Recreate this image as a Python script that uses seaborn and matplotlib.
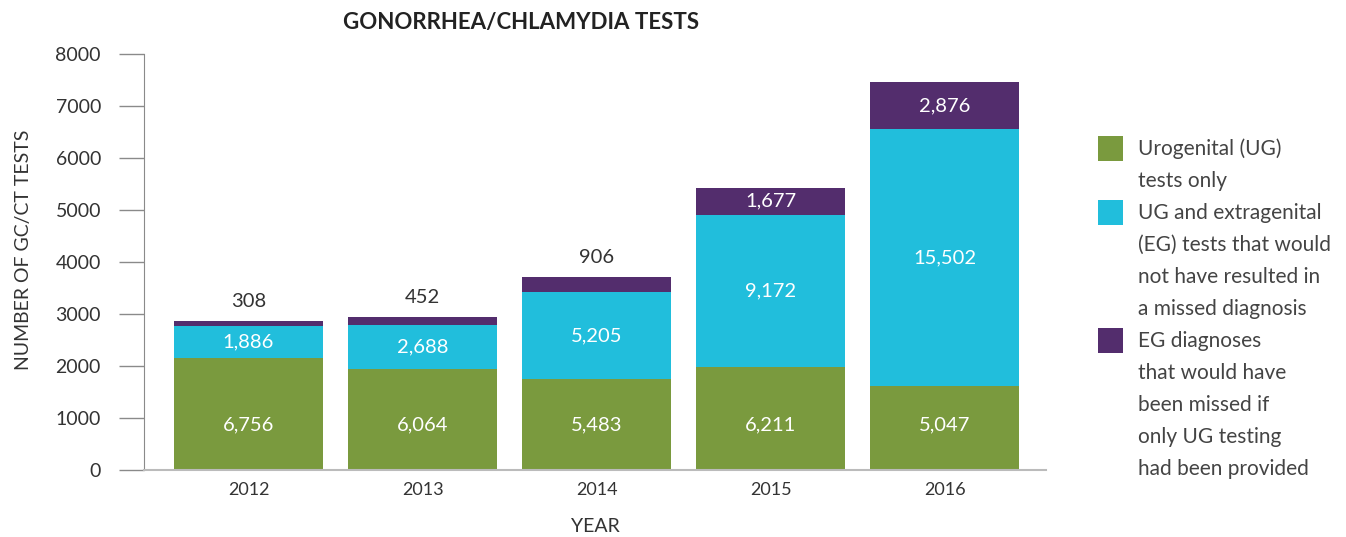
import pandas as pd
import matplotlib
matplotlib.use("Agg")
import matplotlib.pyplot as plt
import seaborn as sns
from matplotlib.patches import Rectangle

# bar segment heights as drawn on the axis
years = ["2012", "2013", "2014", "2015", "2016"]
ug_only = [2152, 1936, 1744, 1974, 1616]
ug_eg = [608, 843, 1668, 2933, 4940]
eg_missed = [96, 154, 288, 518, 901]

# numbers printed on the segments
ug_only_labels = ["6,756", "6,064", "5,483", "6,211", "5,047"]
ug_eg_labels = ["1,886", "2,688", "5,205", "9,172", "15,502"]
eg_missed_labels = ["308", "452", "906", "1,677", "2,876"]

legend_labels = [
    "Urogenital (UG)\ntests only",
    "UG and extragenital\n(EG) tests that would\nnot have resulted in\na missed diagnosis",
    "EG diagnoses\nthat would have\nbeen missed if\nonly UG testing\nhad been provided",
]

GREEN = "#7a9a3e"
CYAN = "#21bedc"
PURPLE = "#532d6d"
TEXT = "#333333"

sns.set_style("white")
plt.rcParams["font.family"] = ["Lato", "DejaVu Sans"]

df = pd.DataFrame({"year": years, "ug": ug_only, "ugeg": ug_eg, "eg": eg_missed})
df["lvl1"] = df["ug"]
df["lvl2"] = df["ug"] + df["ugeg"]
df["lvl3"] = df["lvl2"] + df["eg"]

fig = plt.figure(figsize=(13.46, 5.37), dpi=100)
ax = fig.add_axes([0.107, 0.125, 0.670, 0.7747])

# stacked bars: draw totals first, then overlay the lower layers
for col, color in [("lvl3", PURPLE), ("lvl2", CYAN), ("lvl1", GREEN)]:
    sns.barplot(data=df, x="year", y=col, color=color, width=0.856,
                saturation=1, ax=ax, linewidth=0)

ax.set_xlim(-0.6, 4.58)
ax.set_ylim(0, 8000)
ax.set_yticks(range(0, 8001, 1000))
ax.set_yticklabels([str(v) for v in range(0, 8001, 1000)], fontsize=14, color=TEXT)
ax.tick_params(axis="y", length=18, width=1, color="#8a8a8a", pad=13, direction="out", left=True)
ax.tick_params(axis="x", length=0, pad=9, labelsize=13, labelcolor=TEXT)

for side in ["top", "right"]:
    ax.spines[side].set_visible(False)
ax.spines["left"].set_color("#8a8a8a")
ax.spines["bottom"].set_color("#bbbbbb")
ax.spines["bottom"].set_linewidth(1.5)

ax.set_xlabel("YEAR", fontsize=14, color=TEXT, labelpad=14)
ax.set_ylabel("NUMBER OF GC/CT TESTS", fontsize=14, color=TEXT, labelpad=16)
ax.yaxis.set_label_coords(-0.124, 0.53)

# segment labels
for i in range(len(years)):
    ax.text(i, 860, ug_only_labels[i], ha="center", va="center", color="white", fontsize=14.5)
    ax.text(i, (df["lvl1"][i] + df["lvl2"][i]) / 2, ug_eg_labels[i],
            ha="center", va="center", color="white", fontsize=14.5)
    if eg_missed[i] > 400:
        ax.text(i, (df["lvl2"][i] + df["lvl3"][i]) / 2, eg_missed_labels[i],
                ha="center", va="center", color="white", fontsize=14.5)
    else:
        ax.text(i, df["lvl3"][i] + 390, eg_missed_labels[i],
                ha="center", va="center", color=TEXT, fontsize=14.5)

fig.text(521 / 1346, 1 - 22 / 537, "GONORRHEA/CHLAMYDIA TESTS", ha="center", va="center",
         fontsize=16, fontweight="bold", color="#222222")

# legend drawn by hand, one line at a time
W, H = 1346, 537
line = 0
for label, color in zip(legend_labels, [GREEN, CYAN, PURPLE]):
    y_center = 148 + 32 * line
    fig.add_artist(Rectangle((1098 / W, 1 - (y_center + 12.5) / H), 25 / W, 25 / H,
                             transform=fig.transFigure, color=color, lw=0))
    for part in label.split("\n"):
        fig.text(1138 / W, 1 - (148 + 32 * line + 7) / H, part, ha="left", va="baseline",
                 fontsize=15, color="#444444")
        line += 1

fig.savefig("out.png", dpi=100)
